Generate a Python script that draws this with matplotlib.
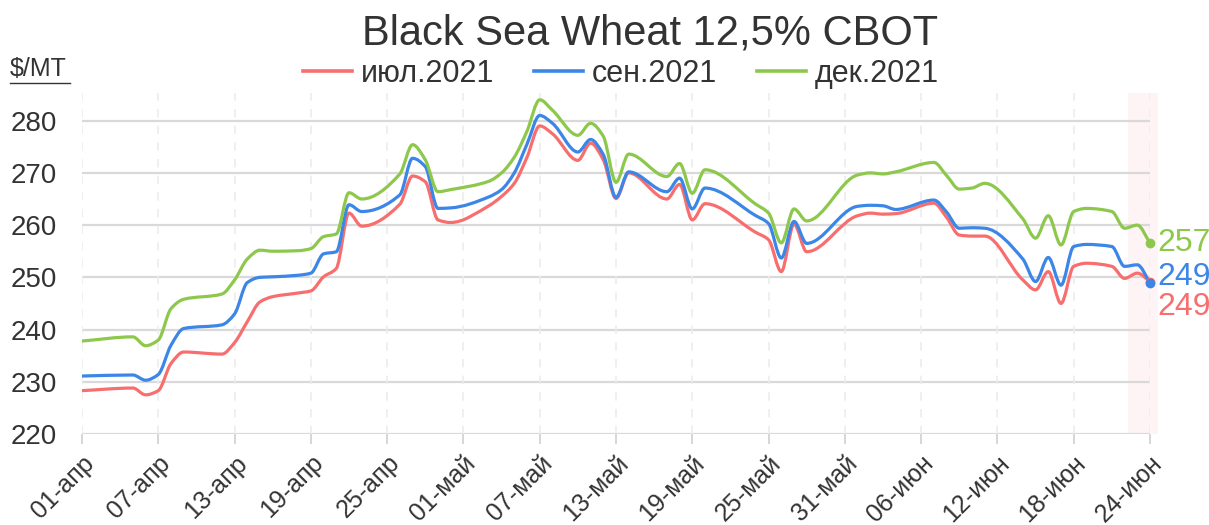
import matplotlib
matplotlib.use("Agg")
import matplotlib.pyplot as plt
import matplotlib.dates as mdates
from matplotlib.path import Path
from matplotlib.patches import PathPatch
from matplotlib.lines import Line2D
import numpy as np
import pandas as pd

# values ($/MT)
dates = [
    "2021-04-01", "2021-04-05", "2021-04-06", "2021-04-07", "2021-04-08", "2021-04-09",
    "2021-04-12", "2021-04-13", "2021-04-14", "2021-04-15", "2021-04-16", "2021-04-18",
    "2021-04-19", "2021-04-20", "2021-04-21", "2021-04-22", "2021-04-23", "2021-04-26",
    "2021-04-27", "2021-04-28", "2021-04-29", "2021-04-30", "2021-05-03", "2021-05-04",
    "2021-05-05", "2021-05-06", "2021-05-07", "2021-05-08", "2021-05-10", "2021-05-11",
    "2021-05-12", "2021-05-13", "2021-05-14", "2021-05-17", "2021-05-18", "2021-05-19",
    "2021-05-20", "2021-05-24", "2021-05-25", "2021-05-26", "2021-05-27", "2021-05-28",
    "2021-06-01", "2021-06-02", "2021-06-03", "2021-06-04", "2021-06-07", "2021-06-08",
    "2021-06-09", "2021-06-10", "2021-06-11", "2021-06-14", "2021-06-15", "2021-06-16",
    "2021-06-17", "2021-06-18", "2021-06-19", "2021-06-21", "2021-06-22", "2021-06-23",
    "2021-06-24",
]
jul_2021 = [
    228.3, 228.8, 227.5, 228.3, 233.5, 235.7,
    235.3, 237.5, 241.5, 245.3, 246.3, 247.0,
    247.4, 250.1, 251.7, 262.3, 259.8, 264.0,
    269.4, 268.3, 261.0, 260.5, 263.7, 265.5,
    268.0, 273.0, 279.0, 277.5, 272.4, 275.7,
    272.5, 265.1, 270.0, 265.0, 267.8, 261.0,
    264.1, 258.6, 257.2, 251.1, 260.2, 254.9,
    261.8, 262.3, 262.1, 262.2, 264.2, 261.5,
    258.1, 257.9, 257.9, 249.5, 247.6, 251.1,
    245.0, 252.1, 252.7, 252.1, 249.8, 250.8,
    249.2,
]
sep_2021 = [
    231.1, 231.3, 230.3, 231.4, 237.0, 240.2,
    240.9, 243.0, 249.0, 250.0, 250.1, 250.4,
    250.8, 254.5, 254.9, 263.9, 262.6, 265.8,
    272.8, 271.2, 263.2, 263.3, 265.4, 266.8,
    270.0, 275.5, 281.0, 279.5, 274.0, 276.4,
    273.5, 265.3, 270.2, 266.4, 269.0, 263.1,
    267.1, 261.8, 260.3, 253.7, 260.7, 256.5,
    263.6, 263.8, 263.7, 263.0, 264.8, 262.5,
    259.4, 259.5, 259.4, 253.5, 249.2, 253.8,
    248.5, 255.9, 256.3, 255.9, 252.1, 252.4,
    249.0,
]
dec_2021 = [
    237.8, 238.6, 236.9, 238.0, 244.0, 245.8,
    246.8, 249.5, 253.5, 255.2, 255.0, 255.1,
    255.5, 257.8, 258.3, 266.2, 265.0, 269.8,
    275.4, 272.5, 266.4, 266.8, 268.4, 270.0,
    273.0, 278.0, 284.0, 282.0, 277.2, 279.5,
    277.0, 268.2, 273.6, 269.3, 271.8, 266.1,
    270.6, 264.0, 262.3, 256.6, 263.1, 260.8,
    269.6, 270.0, 269.8, 270.2, 272.0, 269.5,
    266.9, 267.1, 268.0, 261.2, 257.5, 261.8,
    256.2, 262.6, 263.2, 262.6, 259.4, 260.0,
    256.6,
]
series_names = ["июл.2021", "сен.2021", "дек.2021"]
end_labels = ["249", "249", "257"]

tick_dates = [
    "2021-04-01", "2021-04-07", "2021-04-13", "2021-04-19", "2021-04-25",
    "2021-05-01", "2021-05-07", "2021-05-13", "2021-05-19", "2021-05-25",
    "2021-05-31", "2021-06-06", "2021-06-12", "2021-06-18", "2021-06-24",
]
tick_labels = [
    "01-апр", "07-апр", "13-апр", "19-апр", "25-апр",
    "01-май", "07-май", "13-май", "19-май", "25-май",
    "31-май", "06-июн", "12-июн", "18-июн", "24-июн",
]
y_ticks = [220, 230, 240, 250, 260, 270, 280]

COLORS = ["#f86e6e", "#3b86e6", "#8dc84c"]
TEXT = "#333333"
LABEL_OFFSETS = [(5, -18), (5, 4), (5, 0)]


def smooth_path(x, y):
    """Monotone cubic through the points, as bezier segments."""
    x = np.asarray(x, float)
    y = np.asarray(y, float)
    h = np.diff(x)
    delta = np.diff(y) / h
    m = np.zeros_like(y)
    m[0], m[-1] = delta[0], delta[-1]
    for i in range(1, len(y) - 1):
        if delta[i - 1] * delta[i] <= 0:
            m[i] = 0.0
        else:
            w1 = 2 * h[i] + h[i - 1]
            w2 = h[i] + 2 * h[i - 1]
            m[i] = (w1 + w2) / (w1 / delta[i - 1] + w2 / delta[i])
    verts = [(x[0], y[0])]
    codes = [Path.MOVETO]
    for i in range(len(x) - 1):
        verts += [
            (x[i] + h[i] / 3, y[i] + m[i] * h[i] / 3),
            (x[i + 1] - h[i] / 3, y[i + 1] - m[i + 1] * h[i] / 3),
            (x[i + 1], y[i + 1]),
        ]
        codes += [Path.CURVE4] * 3
    return Path(verts, codes)


plt.rcParams["font.family"] = ["Liberation Sans", "DejaVu Sans"]

fig = plt.figure(figsize=(12.09, 5.25), dpi=100)
ax = fig.add_axes([82 / 1209, 91 / 525, (1150 - 82) / 1209, (434 - 93) / 525])

xs = mdates.date2num(pd.to_datetime(dates))
ticks_x = mdates.date2num(pd.to_datetime(tick_dates))

ax.set_xlim(xs[0], xs[-1])
ax.set_ylim(220, 285.3)

# highlight of the last session
ax.axvspan(xs[-1] - 1.7, xs[-1] + 0.6, color="#fef3f5", zorder=0, clip_on=False, lw=0)

for v in y_ticks:
    ax.axhline(v, color="#d9d9d9", lw=1.6, zorder=1)
for t in ticks_x:
    ax.axvline(t, color="#ececec", lw=1.2, ls=(0, (5, 5)), zorder=1)

handles = []
for vals, name, col in zip([jul_2021, sep_2021, dec_2021], series_names, COLORS):
    patch = PathPatch(smooth_path(xs, vals), fill=False, edgecolor=col, lw=2.3,
                      capstyle="round", joinstyle="round", zorder=3)
    ax.add_patch(patch)
    handles.append(Line2D([0], [0], color=col, lw=2.6, label=name))

for vals, col, lab, off in zip([jul_2021, sep_2021, dec_2021], COLORS, end_labels, LABEL_OFFSETS):
    ax.plot(xs[-1], vals[-1], "o", color=col, ms=6, zorder=4, clip_on=False)
    ax.annotate(lab, (xs[-1], vals[-1]), xytext=off, textcoords="offset points",
                color=col, fontsize=23, ha="left", va="center", annotation_clip=False)

for s in ax.spines.values():
    s.set_visible(False)

ax.set_yticks(y_ticks)
ax.set_yticklabels([str(v) for v in y_ticks])
ax.tick_params(axis="y", length=0, pad=18, labelsize=20, labelcolor=TEXT)

ax.set_xticks(ticks_x)
ax.set_xticklabels(tick_labels, rotation=45, ha="right", va="top", rotation_mode="anchor")
ax.tick_params(axis="x", length=7, width=1.2, color="#d0d0d0", pad=5, labelsize=18,
               labelcolor=TEXT)

fig.text(650 / 1209, 1 - 33 / 525, "Black Sea Wheat 12,5% CBOT", ha="center", va="center",
         fontsize=30, color=TEXT)
fig.text(10 / 1209, 1 - 69 / 525, "$/MT", ha="left", va="center", fontsize=18, color=TEXT)
fig.add_artist(Line2D([10 / 1209, 70 / 1209], [1 - 83 / 525, 1 - 83 / 525], color=TEXT, lw=1))

fig.legend(handles=handles, loc="center", bbox_to_anchor=(621 / 1209, 1 - 74 / 525), ncol=3,
           frameon=False, fontsize=22, handlelength=1.6, handletextpad=0.3,
           columnspacing=1.3, labelcolor=TEXT)

fig.savefig("out.png", dpi=100)
